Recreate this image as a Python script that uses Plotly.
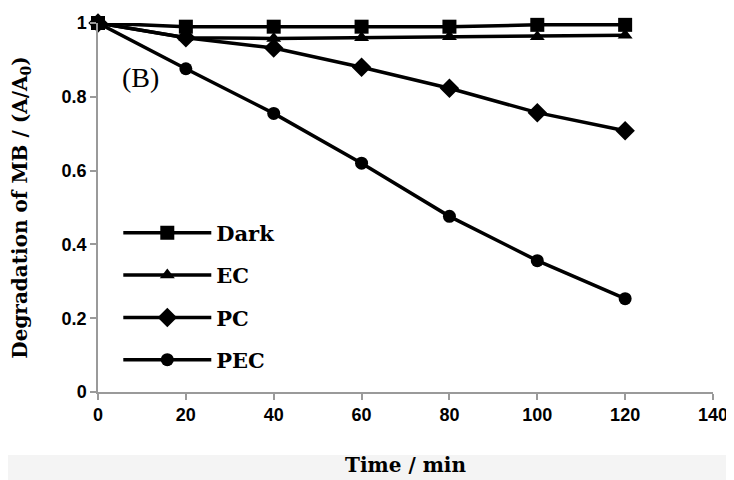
import plotly.graph_objects as go

time_min = [0, 20, 40, 60, 80, 100, 120]
dark = [1.0, 0.99, 0.99, 0.99, 0.99, 0.995, 0.995]
ec = [1.0, 0.96, 0.958, 0.96, 0.963, 0.963, 0.967]
pc = [1.0, 0.96, 0.932, 0.88, 0.823, 0.757, 0.708]
pec = [1.0, 0.876, 0.755, 0.62, 0.476, 0.356, 0.253]

series = [
    ("Dark", dark, "square", 14),
    ("EC", ec, "triangle-up", 13),
    ("PC", pc, "diamond", 15),
    ("PEC", pec, "circle", 13),
]

fig = go.Figure()
for i, (name, vals, sym, sz) in enumerate(series):
    fig.add_trace(go.Scatter(
        x=time_min, y=vals, name=name, mode="lines+markers",
        line=dict(color="black", width=3.5),
        marker=dict(symbol=sym, size=sz, color="black"),
        cliponaxis=False, legendgroup=name,
    ))

tick_font = dict(family="Liberation Sans, Arial, sans-serif", size=18, color="black", weight="bold")
title_font = dict(family="DejaVu Serif, serif", size=20, color="black", weight="bold")

# page body has an 8px margin: figure is sized so the plot area lands where the reference has it
fig.update_layout(
    width=726, height=472,
    margin=dict(l=90, r=21, t=15, b=88),
    paper_bgcolor="white", plot_bgcolor="white",
    showlegend=True,
    legend=dict(
        x=0.033, y=0.486, xanchor="left", yanchor="top",
        bgcolor="rgba(0,0,0,0)",
        font=dict(family="DejaVu Serif, serif", size=21, color="black", weight="bold"),
        tracegroupgap=12, itemwidth=88,
    ),
    xaxis=dict(
        range=[0, 140], tickvals=[0, 20, 40, 60, 80, 100, 120, 140],
        showline=True, linecolor="#9a9a9a", linewidth=1.5,
        ticks="outside", ticklen=6, tickcolor="#9a9a9a", tickwidth=1.5,
        showgrid=False, zeroline=False, tickfont=tick_font, automargin=False,
        title=dict(text="Time / min", font=title_font, standoff=34),
    ),
    yaxis=dict(
        range=[0, 1], tickvals=[0, 0.2, 0.4, 0.6, 0.8, 1],
        ticktext=["0", "0.2", "0.4", "0.6", "0.8", "1"],
        showline=True, linecolor="#9a9a9a", linewidth=1.5,
        ticks="outside", ticklen=6, tickcolor="#9a9a9a", tickwidth=1.5,
        showgrid=False, zeroline=False, tickfont=tick_font, automargin=False,
        title=dict(text="Degradation of MB / (A/A<sub>0</sub>)", font=title_font, standoff=30),
    ),
    shapes=[dict(
        type="rect", xref="paper", yref="paper", x0=-0.2, x1=1.05, y0=-0.3, y1=-0.171,
        fillcolor="#f4f4f4", line=dict(width=0), layer="below",
    )],
    annotations=[dict(
        text="(B)", xref="paper", yref="paper", x=0.035, y=0.851,
        xanchor="left", yanchor="middle", showarrow=False,
        font=dict(family="Liberation Serif, Times New Roman, serif", size=28, color="black"),
    )],
)

fig.write_html("out.html")
